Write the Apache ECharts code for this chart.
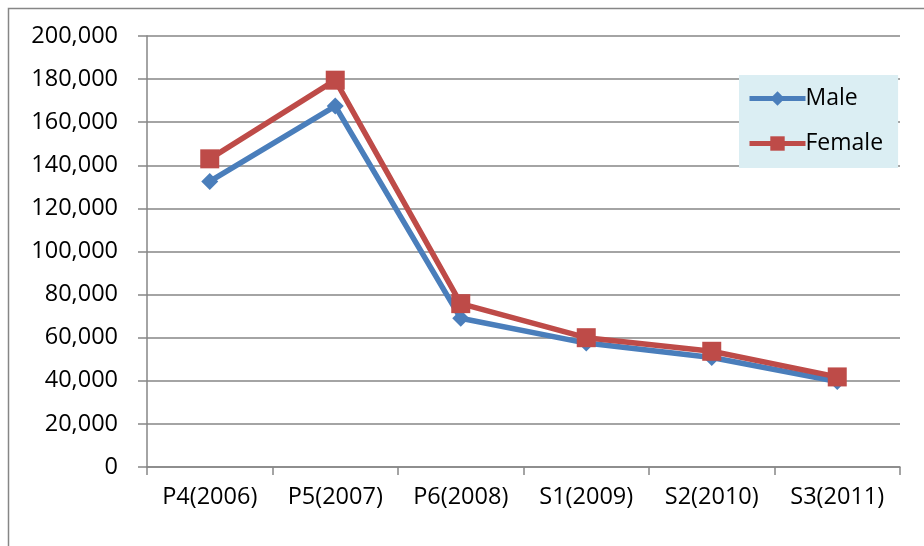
<!DOCTYPE html>
<html>
<head>
<meta charset="utf-8">
<script src="https://cdn.jsdelivr.net/npm/echarts@6/dist/echarts.min.js"></script>
<style>
  html, body { margin: 0; padding: 0; background: #ffffff; }
  #chart { width: 924px; height: 546px; }
</style>
</head>
<body>
<div id="chart"></div>
<script>
// Enrolment by level and year
const categories = ['P4(2006)', 'P5(2007)', 'P6(2008)', 'S1(2009)', 'S2(2010)', 'S3(2011)'];
const maleValues = [132500, 167500, 69000, 57500, 50800, 39700];
const femaleValues = [143000, 179500, 75800, 60000, 53700, 41800];
const yTicks = { min: 0, max: 200000, step: 20000 };

const axisGray = '#868686';
const font = '"Open Sans", "Liberation Sans", sans-serif';

const chart = echarts.init(document.getElementById('chart'), null, { renderer: 'canvas' });

chart.setOption({
  backgroundColor: '#ffffff',
  animation: false,
  graphic: [{
    type: 'rect',
    shape: { x: 8.5, y: 8.5, width: 1000, height: 1000 },
    style: { fill: 'none', stroke: axisGray, lineWidth: 1.5 },
    silent: true,
    z: -10
  }],
  grid: { left: 147, right: 24, top: 36, bottom: 79, containLabel: false },
  legend: {
    orient: 'vertical',
    left: 739,
    top: 75,
    padding: [12, 15, 13, 8],
    itemGap: 22,
    itemWidth: 56,
    itemHeight: 18,
    backgroundColor: '#dbeef3',
    lineStyle: { width: 5 },
    textStyle: { fontFamily: font, fontSize: 23, color: '#000000', padding: [0, 0, 0, -5] },
    data: ['Male', 'Female']
  },
  xAxis: {
    type: 'category',
    data: categories,
    boundaryGap: true,
    axisLine: { lineStyle: { color: axisGray, width: 1.5 } },
    axisTick: { show: true, length: 8, inside: false, lineStyle: { color: axisGray, width: 1.5 } },
    axisLabel: { fontFamily: font, fontSize: 23.5, color: '#000000', margin: 18 },
    splitLine: { show: false }
  },
  yAxis: {
    type: 'value',
    min: yTicks.min,
    max: yTicks.max,
    interval: yTicks.step,
    axisLine: { show: true, lineStyle: { color: axisGray, width: 1.5 } },
    axisTick: { show: true, length: 9, lineStyle: { color: axisGray, width: 1.5 } },
    axisLabel: {
      fontFamily: font, fontSize: 23.5, color: '#000000', margin: 29,
      formatter: v => v.toLocaleString('en-US')
    },
    splitLine: { show: true, lineStyle: { color: axisGray, width: 1.5 } }
  },
  series: [
    {
      name: 'Male',
      type: 'line',
      data: maleValues,
      symbol: 'diamond',
      symbolSize: 17,
      lineStyle: { color: '#4a7ebb', width: 5.5 },
      itemStyle: { color: '#4a7ebb' },
      z: 2
    },
    {
      name: 'Female',
      type: 'line',
      data: femaleValues,
      symbol: 'rect',
      symbolSize: 19,
      lineStyle: { color: '#be4b48', width: 5.5 },
      itemStyle: { color: '#be4b48' },
      z: 3
    }
  ]
});
</script>
</body>
</html>
